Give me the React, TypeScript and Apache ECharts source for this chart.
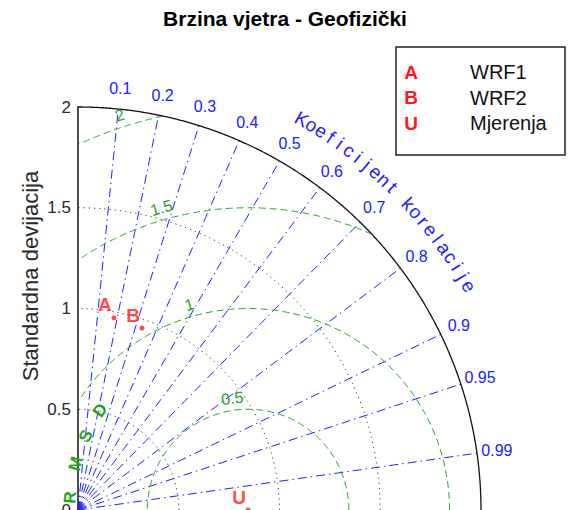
import { useEffect, useRef } from "react";
import * as echarts from "echarts";

// ---- texts ----
const titleText = "Brzina vjetra - Geofizički";
const stdAxisName = "Standardna devijacija";
const corrAxisName = "Koeficijent korelacije";
const rmsAxisName = "RMSD";

// ---- standard deviation axis ----
const stdTicks = [0, 0.5, 1, 1.5, 2];
const stdTickLabels = ["0", "0.5", "1", "1.5", "2"];
const stdDottedCircles = [0.5, 1, 1.5];

// ---- correlation rays ----
const corrTicks = [0.1, 0.2, 0.3, 0.4, 0.5, 0.6, 0.7, 0.8, 0.9, 0.95, 0.99];
const corrTickLabels = ["0.1", "0.2", "0.3", "0.4", "0.5", "0.6", "0.7", "0.8", "0.9", "0.95", "0.99"];

// ---- centred RMS difference circles ----
const rmsTicks = [0.5, 1, 1.5, 2];
const rmsTickLabels = ["0.5", "1", "1.5", "2"];

// ---- points: model runs and the measurements ----
const pointLetters = ["A", "B", "U"];
const pointNames = ["WRF1", "WRF2", "Mjerenja"];
const pointStd = [0.97, 0.957, 0.844];
const pointCorr = [0.184, 0.332, 1.0];

// ---- layout ----
const W = 568;
const H = 510;
const UNIT = 201.5; // pixels per unit of standard deviation
const X_MAX = 2.4;
const FONT = "'Liberation Sans', Arial, Helvetica, sans-serif";
const BLUE = "#2020ff";
const GREEN = "#22a322";
const RED = "#ff1a1a";

const deg = (d: number) => (d * Math.PI) / 180;
const polar = (r: number, a: number): [number, number] => [r * Math.cos(a), r * Math.sin(a)];

function arc(cx: number, r: number, a0: number, a1: number, n = 240): [number, number][] {
  const pts: [number, number][] = [];
  for (let i = 0; i <= n; i++) {
    const a = a0 + ((a1 - a0) * i) / n;
    pts.push([cx + r * Math.cos(a), r * Math.sin(a)]);
  }
  return pts;
}

type TextItem = {
  x: number;
  y: number;
  text: string;
  rot?: number;
  color: string;
  size: number;
  weight?: string;
  align?: string;
};

function textSeries(items: TextItem[], z = 5) {
  return {
    type: "custom",
    silent: true,
    clip: false,
    z,
    data: items.map((it) => [it.x, it.y]),
    renderItem: (params: any, api: any) => {
      const it = items[params.dataIndex];
      const p = api.coord([api.value(0), api.value(1)]);
      return {
        type: "text",
        x: p[0],
        y: p[1],
        rotation: it.rot || 0,
        style: {
          text: it.text,
          fill: it.color,
          font: `${it.weight || "normal"} ${it.size}px ${FONT}`,
          align: it.align || "center",
          verticalAlign: "middle",
        },
      };
    },
  };
}

export default function App() {
  const ref = useRef<HTMLDivElement>(null);

  useEffect(() => {
    if (!ref.current) return;
    const chart = echarts.init(ref.current, undefined, { renderer: "svg" });
    const stdMax = stdTicks[stdTicks.length - 1];
    const sRef = pointStd[pointLetters.indexOf("U")];

    const series: any[] = [];

    // dotted standard deviation circles
    stdDottedCircles.forEach((r) => {
      series.push({
        type: "line",
        data: arc(0, r, 0, Math.PI / 2),
        showSymbol: false,
        silent: true,
        clip: false,
        lineStyle: { color: "#333", width: 1, type: [1.2, 4] },
        z: 2,
      });
    });

    // correlation rays
    corrTicks.forEach((c) => {
      const a = Math.acos(c);
      series.push({
        type: "line",
        data: [[0, 0], polar(stdMax, a)],
        showSymbol: false,
        silent: true,
        clip: false,
        lineStyle: { color: BLUE, width: 1, type: [9, 4, 1.5, 4] },
        z: 2,
      });
    });

    // RMS circles centred on the measurement point, kept inside the quadrant
    rmsTicks.forEach((R) => {
      let a0 = 0;
      if (sRef + R > stdMax) a0 = Math.acos((stdMax * stdMax - sRef * sRef - R * R) / (2 * sRef * R));
      let a1 = Math.PI;
      if (R > sRef) a1 = Math.acos(-sRef / R);
      series.push({
        type: "line",
        data: arc(sRef, R, a0, a1),
        showSymbol: false,
        silent: true,
        clip: false,
        lineStyle: { color: GREEN, width: 1, type: [7, 4] },
        z: 3,
      });
    });

    // outer boundary
    series.push({
      type: "line",
      data: arc(0, stdMax, 0, Math.PI / 2, 360),
      showSymbol: false,
      silent: true,
      clip: false,
      lineStyle: { color: "#111", width: 1.3, type: "solid" },
      z: 4,
    });

    // correlation tick labels
    series.push(
      textSeries(
        corrTicks.map((c, i) => {
          const [x, y] = polar(stdMax * 1.05, Math.acos(c));
          return { x, y, text: corrTickLabels[i], color: BLUE, size: 16 };
        })
      )
    );

    // curved correlation axis name, one glyph per step
    const chars = corrAxisName.split("");
    const aStart = 60.2;
    const aEnd = 29.8;
    series.push(
      textSeries(
        chars.map((ch, i) => {
          const a = aStart - ((aStart - aEnd) * i) / (chars.length - 1);
          const [x, y] = polar(2.235, deg(a));
          return { x, y, text: ch, rot: deg(a - 90), color: BLUE, size: 19 };
        })
      )
    );

    // RMS circle labels
    const rmsLabelAngles = [98, 106, 106, 108];
    series.push(
      textSeries(
        rmsTicks.map((R, i) => {
          const a = rmsLabelAngles[i];
          const [dx, dy] = polar(R + 0.06, deg(a));
          return { x: sRef + dx, y: dy, text: rmsTickLabels[i], rot: deg(a - 90), color: GREEN, size: 16 };
        })
      )
    );

    // RMSD name along a circle around the measurement point
    const rmsNameAngles = [176, 165, 155.5, 146];
    series.push(
      textSeries(
        rmsAxisName.split("").map((ch, i) => {
          const a = rmsNameAngles[i];
          const [dx, dy] = polar(0.885, deg(a));
          return { x: sRef + dx, y: dy, text: ch, rot: deg(a - 90), color: GREEN, size: 17, weight: "bold" };
        })
      )
    );

    // points
    series.push({
      type: "scatter",
      clip: false,
      z: 10,
      symbol: "circle",
      symbolSize: 5,
      itemStyle: { color: RED },
      data: pointStd.map((s, i) => polar(s, Math.acos(pointCorr[i]))),
      label: {
        show: true,
        position: "inside",
        offset: [-9, -13],
        formatter: (p: any) => pointLetters[p.dataIndex],
        color: RED,
        fontFamily: FONT,
        fontWeight: "bold",
        fontSize: 19,
      },
    });

    // legend
    const legendChildren: any[] = [
      {
        type: "rect",
        shape: { x: 396, y: 47, width: 169, height: 108 },
        style: { fill: "#fff", stroke: "#222", lineWidth: 1.5 },
      },
    ];
    pointLetters.forEach((l, i) => {
      const y = 72 + i * 25.5;
      legendChildren.push({
        type: "text",
        x: 411,
        y,
        style: { text: l, fill: RED, font: `bold 19px ${FONT}`, align: "center", verticalAlign: "middle" },
      });
      legendChildren.push({
        type: "text",
        x: 470,
        y,
        style: { text: pointNames[i], fill: "#111", font: `20px ${FONT}`, align: "left", verticalAlign: "middle" },
      });
    });

    chart.setOption({
      animation: false,
      backgroundColor: "#fff",
      grid: {
        left: 78,
        top: 107,
        width: X_MAX * UNIT,
        height: stdMax * UNIT,
        containLabel: false,
        outerBoundsMode: "none",
      },
      xAxis: {
        type: "value",
        min: 0,
        max: X_MAX,
        show: false,
      },
      yAxis: {
        type: "value",
        min: 0,
        max: stdMax,
        interval: 0.5,
        axisLine: { show: true, onZero: false, lineStyle: { color: "#111", width: 1.5 } },
        axisTick: { show: false },
        splitLine: { show: false },
        axisLabel: {
          margin: 7,
          color: "#2a2a2a",
          fontFamily: FONT,
          fontSize: 17,
          formatter: (v: number) => {
            const i = stdTicks.findIndex((t) => Math.abs(t - v) < 1e-9);
            return i >= 0 ? stdTickLabels[i] : "";
          },
        },
      },
      series,
      graphic: [
        {
          type: "text",
          x: 285,
          y: 18,
          style: { text: titleText, fill: "#000", font: `bold 21px ${FONT}`, align: "center", verticalAlign: "middle" },
        },
        {
          type: "text",
          x: 30,
          y: 276,
          rotation: Math.PI / 2,
          style: { text: stdAxisName, fill: "#2a2a2a", font: `22px ${FONT}`, align: "center", verticalAlign: "middle" },
        },
        { type: "group", children: legendChildren, z: 100 },
      ],
    });

    return () => chart.dispose();
  }, []);

  return (
    <div
      ref={ref}
      style={{ position: "fixed", left: 0, top: 0, width: W, height: H, background: "#fff" }}
    />
  );
}
